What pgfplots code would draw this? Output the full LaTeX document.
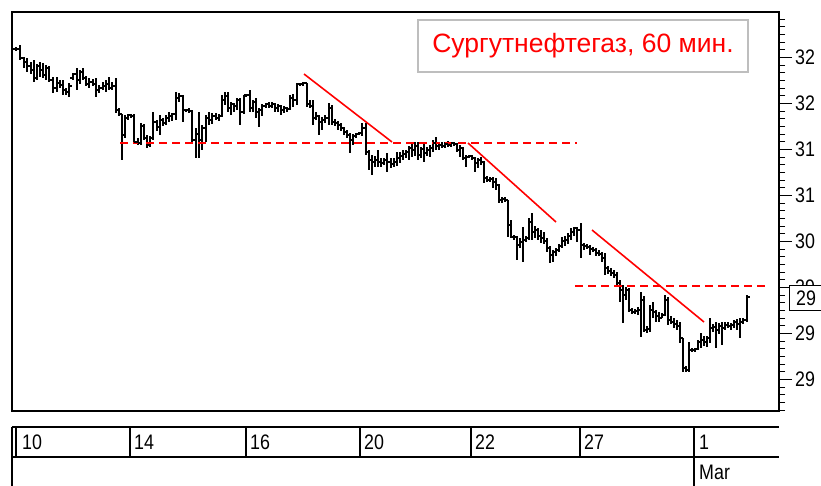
\documentclass[border=0pt]{standalone}
\usepackage{fontspec}
\usepackage{pgfplots}
\usepackage{pgfplotstable}
\pgfplotsset{compat=1.18}
\newfontfamily\labfont[FakeStretch=0.85]{Liberation Sans}
\newfontfamily\ttlfont{Liberation Sans}
\newcommand{\lab}{\labfont\fontsize{21}{21}\selectfont}
\newcommand{\ttl}{\ttlfont\fontsize{26.5}{26.5}\selectfont}
\definecolor{boxgray}{RGB}{190,190,190}
\pgfdeclareplotmark{otick}{\pgfpathmoveto{\pgfqpoint{-3pt}{0pt}}\pgfpathlineto{\pgfqpoint{0pt}{0pt}}\pgfusepathqstroke}
\pgfdeclareplotmark{ctick}{\pgfpathmoveto{\pgfqpoint{0pt}{0pt}}\pgfpathlineto{\pgfqpoint{3pt}{0pt}}\pgfusepathqstroke}
% hourly bars: x = position, o h l c in chart units (axis reversed: small = high price)
\pgfplotstableread{
x o h l c
16 49 47 51 49
20 49 45 60 58
24 58 57 68 62
27 62 58 72 66
31 66 62 74 70
34 70 60 82 78
37 78 64 80 66
40 66 62 77 70
43 70 63 78 75
46 75 65 80 68
49 68 66 82 80
53 80 77 93 88
57 88 77 92 83
60 83 80 88 85
63 85 80 95 90
66 90 88 95 92
69 92 83 97 86
73 78 73 80 74
77 74 68 90 80
80 80 70 84 72
83 72 68 80 78
86 78 76 86 84
89 84 78 88 82
93 82 79 86 84
96 84 78 97 90
99 90 85 93 88
103 88 82 90 86
106 86 80 92 84
109 84 77 90 88
112 88 82 90 86
116 86 78 113 110
119 110 108 116 114
122 114 114 160 135
125 135 115 138 118
128 118 114 120 115
131 115 114 118 116
134 116 114 143 142
138 142 138 145 143
141 143 123 145 126
144 126 124 140 138
147 138 135 148 145
150 145 136 147 138
153 138 112 140 122
157 122 120 131 127
160 127 115 135 120
163 120 118 126 123
166 123 115 125 118
169 118 112 122 116
172 116 113 121 114
176 114 92 120 98
179 98 93 102 96
183 96 95 122 110
186 110 109 112 110
189 110 108 113 111
192 111 110 143 140
196 140 128 158 134
199 134 112 158 140
202 140 125 150 128
206 128 115 142 118
209 118 112 125 120
212 120 113 124 116
216 116 113 120 118
219 118 114 121 116
222 116 95 117 100
225 100 92 105 96
228 96 92 112 108
231 108 102 115 104
234 104 103 112 106
237 106 98 110 100
240 100 98 125 112
244 112 95 114 96
247 95 94 96 95
250 95 90 112 108
253 108 100 112 102
256 102 98 118 112
259 112 108 127 110
262 110 104 116 106
266 106 103 108 104
269 104 102 108 106
272 106 102 108 104
275 104 103 112 108
278 108 104 112 106
281 106 105 115 110
284 110 106 113 108
287 108 107 112 109
290 109 95 110 98
293 98 94 107 100
297 100 83 105 84
300 84 83 86 84
303 84 82 86 83
307 83 83 107 104
310 104 100 108 106
313 106 100 125 118
316 118 112 120 116
319 116 115 135 122
322 122 117 130 120
325 120 115 123 118
329 118 103 125 108
332 108 105 125 122
335 122 119 126 123
338 123 121 130 125
341 125 123 131 128
344 128 127 135 132
347 132 130 138 135
350 135 133 153 140
353 140 134 145 136
356 136 133 138 134
359 134 132 135 133
362 133 123 136 128
366 128 123 155 152
369 152 150 170 160
372 160 155 175 162
375 162 156 167 160
378 160 150 167 162
381 162 158 167 163
384 163 158 165 160
387 160 153 172 162
391 162 158 168 164
394 164 158 167 162
397 162 152 166 158
400 158 152 163 156
403 156 150 160 154
406 154 150 158 152
409 152 146 160 148
412 148 142 157 150
415 150 142 156 146
418 146 142 160 155
421 155 147 158 149
424 149 143 162 153
427 153 147 156 150
430 150 145 157 148
433 148 140 152 143
436 143 137 150 146
439 146 143 150 145
442 145 142 148 146
445 146 142 148 144
448 144 141 147 145
451 145 142 147 143
454 143 142 146 144
457 144 143 152 150
460 150 145 157 148
463 148 147 160 158
466 158 155 167 157
469 157 155 158 156
472 156 155 160 158
475 158 157 172 163
478 163 158 168 160
481 160 157 165 162
484 162 161 183 178
487 178 176 182 180
490 180 177 182 179
493 179 177 188 182
496 182 178 190 185
499 185 184 203 200
502 200 197 203 199
505 199 197 202 200
508 200 200 237 225
511 225 220 238 237
514 237 235 240 237
517 237 236 260 245
520 245 238 248 242
523 242 227 262 240
526 240 236 242 238
529 238 218 240 222
532 222 213 240 232
535 232 226 238 230
538 230 228 240 236
541 236 230 243 238
544 238 232 244 241
547 241 238 252 248
550 248 246 263 255
553 255 250 262 252
556 252 248 256 250
559 250 244 252 246
562 246 237 248 241
565 241 236 246 240
568 240 233 244 236
571 236 228 240 232
574 232 227 236 228
577 228 227 242 230
581 230 223 258 245
584 245 243 250 246
587 246 244 249 247
590 247 245 255 249
593 249 247 252 250
596 250 248 256 253
599 253 250 256 254
602 254 252 262 258
605 258 253 275 268
608 268 266 274 271
611 271 268 276 273
614 273 270 278 275
617 275 272 286 283
620 283 280 302 290
623 290 285 323 295
626 295 287 300 290
629 290 288 312 310
632 310 308 314 312
635 312 309 314 311
638 311 307 315 310
641 310 292 337 300
644 300 296 332 330
647 330 326 333 329
650 329 305 332 310
653 310 302 318 312
656 312 310 322 316
659 316 312 322 318
662 318 313 318 315
665 315 295 316 300
668 300 297 325 320
671 320 316 324 322
674 322 318 328 324
677 324 320 330 326
680 326 322 343 338
683 338 338 372 368
686 368 366 372 370
689 370 342 372 350
692 350 348 352 350
695 350 348 352 349
698 349 340 350 342
701 342 333 348 340
704 340 336 346 342
707 342 336 347 338
710 338 318 343 328
713 328 324 332 327
716 327 322 348 330
719 330 323 334 326
722 326 322 345 328
725 328 322 330 325
728 325 322 328 326
731 326 323 330 325
734 325 320 328 322
737 322 319 330 324
740 324 318 338 322
743 322 318 324 320
747 320 295 322 297
}\bars
\begin{document}
\begin{tikzpicture}
\begin{axis}[
  scale only axis,
  width=767pt, height=399pt,
  xmin=12, xmax=779, ymin=12, ymax=411,
  y dir=reverse,
  clip=false,
  axis line style={black, line width=1.5pt},
  xtick=\empty,
  ytick={57.5,103.5,149.5,195.5,241.5,287.5,333.5,379.5},
  yticklabels={32,32,31,31,30,29,29,29},
  minor ytick={19.1667,26.8333,...,411},
  ytick pos=right, yticklabel pos=right,
  tick align=outside,
  major tick length=13pt, minor tick length=6pt,
  tick style={black, line width=1pt},
  yticklabel style={font=\lab, anchor=west, inner sep=1pt, xshift=2pt},
]
% OHLC bars: vertical low-high range with close tick
\addplot[draw=none, mark=ctick, mark options={draw=black, solid, line width=2.1pt}, forget plot,
  error bars/.cd, y dir=both, y explicit, error mark=none,
  error bar style={draw=black, solid, line width=2.1pt}]
  table[x=x, y=c, y error plus expr=\thisrow{l}-\thisrow{c}, y error minus expr=\thisrow{c}-\thisrow{h}] {\bars};
% open tick
\addplot[draw=none, mark=otick, mark options={draw=black, solid, line width=2.1pt}, forget plot]
  table[x=x, y=o] {\bars};
% support / resistance lines
\addplot[red, line width=1.6pt, dash pattern=on 8pt off 5pt] coordinates {(120,143) (577,143)};
\addplot[red, line width=1.6pt, dash pattern=on 8pt off 5pt] coordinates {(575,286) (768,286)};
% trend lines
\addplot[red, line width=1.6pt] coordinates {(304,74) (392,142)};
\addplot[red, line width=1.6pt] coordinates {(468,143) (556,222)};
\addplot[red, line width=1.6pt] coordinates {(592,230) (704,322)};
% title box
\node[draw=boxgray, line width=1.3pt, fill=white, minimum width=330pt, minimum height=52pt,
  inner sep=0pt, font=\ttl, text=red] at (axis cs:583,46) {Сургутнефтегаз, 60 мин.};
% current price box
\draw[black, line width=1pt, fill=white] (axis cs:789,285) rectangle (axis cs:824,310);
\node[font=\lab, anchor=west, inner sep=0pt] at (axis cs:796,298) {29};
% date band
\draw[black, line width=1.5pt] (axis cs:12,427) -- (axis cs:779,427);
\draw[black, line width=1.5pt] (axis cs:12,457) -- (axis cs:779,457);
\draw[black, line width=1.5pt] (axis cs:12,427) -- (axis cs:12,490);
\draw[black, line width=1.5pt] (axis cs:16,427) -- (axis cs:16,457);
\draw[black, line width=1.5pt] (axis cs:130,427) -- (axis cs:130,457);
\draw[black, line width=1.5pt] (axis cs:246,427) -- (axis cs:246,457);
\draw[black, line width=1.5pt] (axis cs:360,427) -- (axis cs:360,457);
\draw[black, line width=1.5pt] (axis cs:471,427) -- (axis cs:471,457);
\draw[black, line width=1.5pt] (axis cs:580,427) -- (axis cs:580,457);
\draw[black, line width=1.5pt] (axis cs:694,427) -- (axis cs:694,490);
\node[font=\lab, anchor=west, inner sep=0pt] at (axis cs:22,442) {10};
\node[font=\lab, anchor=west, inner sep=0pt] at (axis cs:134,442) {14};
\node[font=\lab, anchor=west, inner sep=0pt] at (axis cs:250,442) {16};
\node[font=\lab, anchor=west, inner sep=0pt] at (axis cs:364,442) {20};
\node[font=\lab, anchor=west, inner sep=0pt] at (axis cs:475,442) {22};
\node[font=\lab, anchor=west, inner sep=0pt] at (axis cs:584,442) {27};
\node[font=\lab, anchor=west, inner sep=0pt] at (axis cs:699,442) {1};
\node[font=\lab, anchor=west, inner sep=0pt] at (axis cs:699,472) {Mar};
\coordinate (BL) at (axis cs:0,485);
\coordinate (TR) at (axis cs:821,0);
\end{axis}
\pgfresetboundingbox
\useasboundingbox (BL) rectangle (TR);
\end{tikzpicture}
\end{document}
